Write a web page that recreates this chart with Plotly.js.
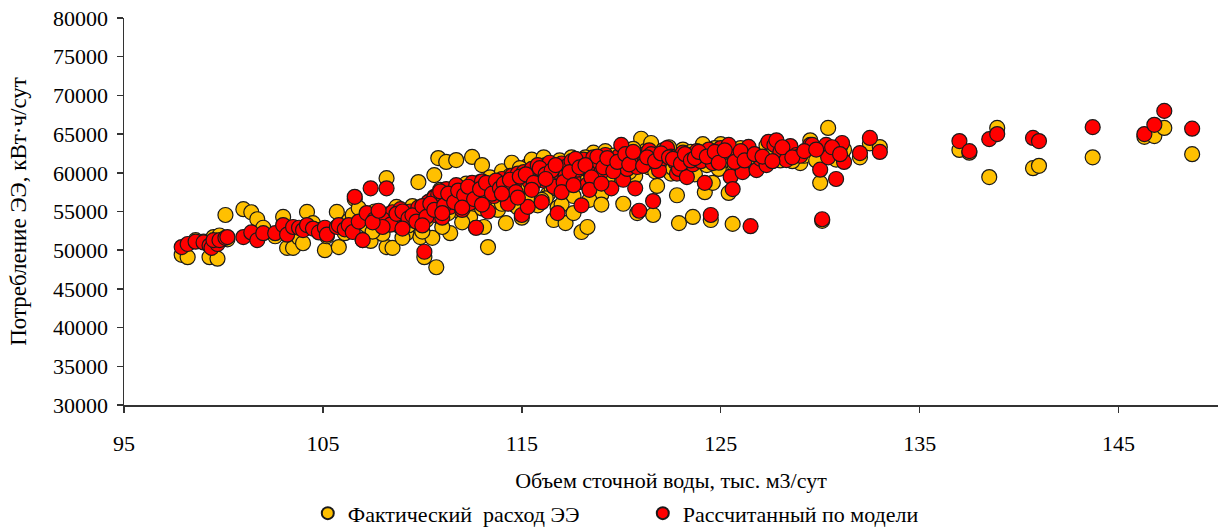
<!DOCTYPE html>
<html>
<head>
<meta charset="utf-8">
<script src="https://cdn.plot.ly/plotly-3.0.1.min.js"></script>
<style>
html,body{margin:0;padding:0;background:#fff;}
#chart{width:1221px;height:529px;}
</style>
</head>
<body>
<div id="chart"></div>
<script>
// Объем сточной воды, тыс. м3/сут
const volume = [
97.9,98.2,98.6,99.0,99.3,99.4,99.7,99.5,99.8,100.1,100.2,101.0,101.4,101.7,102.0,102.6,103.0,103.2,103.5,103.8,
104.0,104.2,104.5,104.8,105.1,105.2,105.7,105.8,106.1,106.3,106.5,106.6,106.8,107.0,107.2,107.4,107.6,107.9,108.2,108.2,
108.5,108.6,108.9,109.2,109.4,109.6,109.8,109.9,110.1,110.3,110.5,110.6,110.7,110.8,110.9,111.0,111.2,111.4,111.5,111.7,
111.9,112.0,112.2,112.4,112.5,112.7,112.8,113.0,113.1,113.3,113.4,113.6,113.8,114.0,114.2,114.3,114.5,114.6,114.8,115.0,
115.1,115.3,115.4,115.5,115.7,115.8,116.0,116.1,116.3,116.4,116.6,116.8,116.9,117.0,117.2,117.3,117.5,117.6,117.8,118.0,
118.1,118.3,118.4,118.6,118.7,118.9,119.0,119.2,119.4,119.5,119.7,119.9,120.0,120.1,120.3,120.5,120.7,120.8,120.9,121.0,
121.2,121.4,121.5,121.6,121.8,121.9,122.1,122.3,122.5,122.7,122.8,122.9,123.1,123.3,123.4,123.6,123.8,124.0,124.1,124.2,
124.4,124.5,124.6,124.8,125.0,125.1,125.4,125.5,125.6,125.8,126.1,126.4,126.5,126.8,127.0,127.3,127.4,127.7,127.8,128.0,
128.3,128.5,128.8,129.0,129.5,129.6,130.0,130.1,130.3,130.4,130.8,131.1,131.2,132.0,132.5,133.0,137.0,137.5,138.5,138.9,
140.7,141.0,143.7,146.3,146.8,147.3,148.7,
108.0,108.4,108.7,109.0,109.3,109.5,109.7,110.0,110.2,110.4,110.6,110.9,111.1,111.3,111.6,111.8,112.1,112.3,112.6,112.9,
113.2,113.5,113.7,113.9,114.1,114.4,114.7,114.9,115.2,115.6,115.9,116.2,116.5,116.7,117.1,117.4,117.7,117.9,118.2,118.5,
118.8,119.1,119.3,119.6,119.8,120.2,120.4,120.6,121.1,121.3,121.7,122.0,122.4,122.6,123.0,123.2,123.5,123.7,123.9,124.3,
124.7,124.9,125.2,125.7,126.0,126.2,126.7,127.1,127.6,128.1,128.6,129.2,129.8,130.6,131.0,114.0,114.8,115.5,116.2,117.0,
117.6,118.4,119.0,116.0,113.0,112.0,111.0,110.0,109.0,108.0,107.5,107.8
];
// Фактический расход ЭЭ, кВт·ч/сут
const actual = [
49400,49100,51300,51100,49100,50600,48900,51700,51900,54550,51400,55300,54900,54000,52900,51800,54300,50300,50300,51600,
50900,54950,53500,52600,50000,51800,54950,50400,52200,53800,54550,56600,55450,51300,53200,51200,55000,52800,59300,50400,
50300,55200,53000,52200,54500,53600,58800,51700,49100,56200,51600,59700,47800,61900,54300,55600,61400,52200,57800,61650,
55000,56400,58600,54300,62050,52900,57200,61000,53000,50400,59400,56800,55200,60200,53500,58500,61300,55900,57300,54200,
59800,60900,57600,61700,58900,55800,60400,62000,57200,59500,53900,55500,61600,58400,53500,60700,62000,57000,59800,52350,
61200,53000,60300,62600,58300,61000,57200,62800,60000,58700,61900,60300,63000,56000,61300,62400,59600,54800,60900,64400,
62800,60700,63850,54550,58300,61800,62900,61000,59900,62600,57100,53500,63000,60200,62100,54300,61700,62900,63700,57500,
61200,53900,58700,62500,63700,60900,57400,59900,53400,62800,61700,62700,61400,60900,62300,63500,61900,62800,62000,61600,
62900,62600,61800,61250,64200,62700,58700,53800,62500,65800,61700,62300,63000,62000,63800,63330,62950,62600,59450,65800,
60600,60900,62000,64650,64750,65800,62400,
54600,53800,55600,54100,53200,55700,54800,55400,53900,54700,56900,57800,56000,54800,56700,58200,55600,57600,56000,58800,
57500,58600,56300,58000,57000,59600,58200,60600,58400,60200,59200,61000,58000,60500,59800,61200,60100,58800,62000,59700,
60600,61500,59100,62200,60900,61900,60100,63100,61400,62600,60200,61200,63300,60600,62100,61000,62700,59800,62300,61000,
63200,60500,62200,61000,63200,60400,62000,61300,62500,63100,61500,62200,61600,62900,63400,56000,55500,57000,56700,55900,
54800,56500,55900,56500,55400,53600,53000,52400,51600,52100,52400,54200
];
// Рассчитанный по модели, кВт·ч/сут
const model = [
50400,50800,51100,51000,50600,50300,50800,51300,51300,51600,51700,51700,52300,51300,52200,52200,53250,52000,53000,52900,
52600,53250,52800,52300,52900,52000,53000,53250,52700,53250,52350,56900,53700,51300,54800,58000,54000,53500,58000,54600,
54900,53800,55300,54400,55000,53800,55500,54200,49800,56200,55100,56800,54500,57200,55800,54200,57900,55600,56400,58400,
56900,55200,57800,56100,58700,52900,57400,58900,56200,55000,58100,57000,58400,59200,57700,56000,59600,58300,59900,54550,
60100,55600,58800,60500,59400,61000,60200,59000,60700,61300,58200,54800,60000,61200,59600,60900,61500,59100,60400,55800,
61700,58500,60900,62000,59800,61300,60100,62300,61000,58000,61600,62200,63600,59100,60500,61800,58000,60750,55100,62000,
61650,62900,62400,56350,61000,60300,61900,63200,62100,61400,59900,60500,62600,59450,62300,61100,62800,61500,62300,58700,
63000,54550,61250,61800,63200,62600,63600,59500,57900,62200,60100,63350,53100,60350,61800,61000,64000,63600,64200,62700,
61650,63450,62300,62200,63600,63600,60400,54000,63600,62000,59200,63850,61400,62550,64500,62700,64100,62800,64350,65000,
64500,64100,65900,65000,66200,68000,65700,
54000,53300,54700,55000,54100,54500,53700,55700,54300,56000,55200,57600,55800,57300,56200,57700,57100,58200,56600,57900,
58700,57300,59000,58000,58600,59100,57500,59500,59800,58700,60600,59800,60300,61000,58800,60100,61800,60700,61000,59400,
62100,60700,61900,60200,61400,62400,61100,62700,60900,62000,61500,62500,62000,61800,61200,62400,61600,61900,62700,62100,
62700,61300,62900,61400,62800,61600,62400,62100,61500,63300,62000,62800,63000,63300,62400,57300,56800,57800,59200,57500,
58400,57800,58600,56200,55900,55500,54800,53200,52800,53000,53600,55100
];

const serif = 'Liberation Serif';
const markerLine = {color: '#1a1a1a', width: 1.2};

const traces = [
  {
    type: 'scatter', mode: 'markers', name: 'Фактический\u00a0 расход ЭЭ',
    x: volume, y: actual,
    marker: {color: '#FFC000', size: 15, line: markerLine}
  },
  {
    type: 'scatter', mode: 'markers', name: 'Рассчитанный по модели',
    x: volume, y: model,
    marker: {color: '#FF0000', size: 15, line: markerLine}
  }
];

const layout = {
  width: 1221, height: 529,
  paper_bgcolor: '#fff', plot_bgcolor: '#fff',
  margin: {l: 124, r: 3, t: 18, b: 124, autoexpand: false},
  font: {family: serif, size: 22, color: '#000'},
  showlegend: true,
  xaxis: {
    range: [95, 150], tick0: 95, dtick: 10, tickmode: 'linear',
    showgrid: false, zeroline: false,
    showline: true, linecolor: '#333', linewidth: 1.5,
    ticks: 'outside', ticklen: 6, tickcolor: '#333', tickwidth: 1.5,
    ticklabelstandoff: 12,
    tickfont: {family: serif, size: 22, color: '#000'},
    title: {text: 'Объем сточной воды, тыс. м3/сут', font: {family: serif, size: 22, color: '#000'}, standoff: 17}
  },
  yaxis: {
    range: [30000, 80000], tick0: 30000, dtick: 5000, tickmode: 'linear',
    tickformat: 'd', separatethousands: false,
    showgrid: false, zeroline: false,
    showline: true, linecolor: '#333', linewidth: 1.5,
    ticks: 'outside', ticklen: 6, tickcolor: '#333', tickwidth: 1.5,
    ticklabelstandoff: 4,
    tickfont: {family: serif, size: 22, color: '#000'},
    title: {text: 'Потребление ЭЭ, кВт·ч/сут', font: {family: serif, size: 23, color: '#000'}, standoff: 20}
  },
  legend: {
    orientation: 'h', x: 0.168, xanchor: 'left', y: -0.28, yanchor: 'middle',
    font: {family: serif, size: 22, color: '#000'},
    bgcolor: 'rgba(0,0,0,0)', itemsizing: 'constant',
    entrywidth: 290, entrywidthmode: 'pixels', tracegroupgap: 0
  }
};

Plotly.newPlot('chart', traces, layout, {displayModeBar: false, staticPlot: true});
</script>
</body>
</html>
